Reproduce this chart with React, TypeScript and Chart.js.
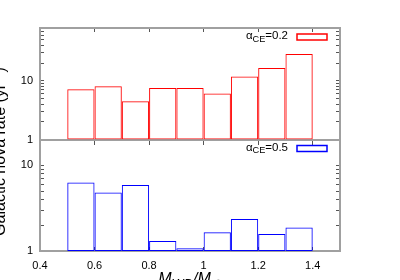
import React, { useEffect, useRef } from 'react';
import { Chart, registerables } from 'chart.js';

Chart.register(...registerables);

// ---- data ----
const binCenters = [0.55, 0.65, 0.75, 0.85, 0.95, 1.05, 1.15, 1.25, 1.35];
const rateCE02 = [7.2, 8.1, 4.5, 7.6, 7.6, 6.1, 11.9, 16.6, 28.9];
const rateCE05 = [6.3, 4.8, 5.9, 1.31, 1.08, 1.66, 2.36, 1.58, 1.88];
const xTickValues = [0.4, 0.6, 0.8, 1.0, 1.2, 1.4];
const topYTicks = [1, 2, 3, 4, 5, 6, 7, 8, 9, 10, 20, 30, 40, 50, 60, 70, 80];
const bottomYTicks = [1, 2, 3, 4, 5, 6, 7, 8, 9, 10, 20];
const labeledYTicks = [1, 10];
const legendValues = ['0.2', '0.5'];

const FONT = '"Liberation Sans", Arial, Helvetica, sans-serif';
const GRAY = '#a0a0a0';
const TICK = '#555555';
const RED = '#ff0000';
const BLUE = '#0000ff';

type Seg = { t: string; sub?: boolean; sup?: boolean };

function drawRich(ctx: CanvasRenderingContext2D, segs: Seg[], x: number, y: number, size: number, align: 'left' | 'center' | 'right', italic = false) {
  const fontFor = (s: Seg) => `${italic ? 'italic ' : ''}${s.sub || s.sup ? size * 0.8 : size}px ${FONT}`;
  let total = 0;
  const widths = segs.map((s) => {
    ctx.font = fontFor(s);
    const w = ctx.measureText(s.t).width;
    total += w;
    return w;
  });
  let cx = align === 'left' ? x : align === 'center' ? x - total / 2 : x - total;
  ctx.textAlign = 'left';
  ctx.textBaseline = 'alphabetic';
  ctx.fillStyle = '#000';
  segs.forEach((s, i) => {
    ctx.font = fontFor(s);
    const dy = s.sub ? size * 0.25 : s.sup ? -size * 0.4 : 0;
    ctx.fillText(s.t, cx, y + dy);
    cx += widths[i];
  });
}

const textPlugin = {
  id: 'richText',
  afterDraw(chart: any) {
    const ctx = chart.ctx as CanvasRenderingContext2D;
    const area = chart.chartArea;
    ctx.save();
    // y title
    ctx.save();
    ctx.translate(area.left - 35, (area.top + area.bottom) / 2 + 12);
    ctx.rotate(-Math.PI / 2);
    drawRich(ctx, [{ t: 'Galactic nova rate (yr' }, { t: '-1', sup: true }, { t: ')' }], 0, 0, 16, 'center');
    ctx.restore();
    // x title
    drawRich(
      ctx,
      [{ t: 'M' }, { t: 'WD', sub: true }, { t: '/M' }, { t: '⊙', sub: true }],
      (area.left + area.right) / 2,
      chart.scales.x.bottom + 3.5,
      16,
      'center',
      true
    );
    // legends
    ['y1', 'y2'].forEach((id, i) => {
      const sc = chart.scales[id];
      const ds = chart.data.datasets[i];
      drawRich(ctx, [{ t: 'α' }, { t: 'CE', sub: true }, { t: '=' + legendValues[i] }], area.right - 52, sc.top + 11, 11.5, 'right');
      ctx.strokeStyle = ds.borderColor;
      ctx.lineWidth = 1.5;
      ctx.strokeRect(area.right - 43, sc.top + 6, 30, 6);
    });
    ctx.restore();
  },
};

function xAxis(position: any, tickLength: number, showLabels: boolean, height: number | null) {
  return {
    type: 'linear',
    axis: 'x',
    position,
    offset: false,
    min: 0.4,
    max: 1.5,
    afterBuildTicks: (s: any) => {
      s.ticks = xTickValues.map((v) => ({ value: v }));
    },
    afterFit: (s: any) => {
      if (height !== null) s.height = height;
    },
    ticks: {
      display: showLabels,
      font: { family: FONT, size: 11 },
      color: '#000',
      padding: 12,
      maxRotation: 0,
      autoSkip: false,
      callback: (v: number) => String(Math.round(v * 10) / 10),
    },
    grid: { offset: false, drawOnChartArea: false, drawTicks: true, tickLength, tickColor: TICK, tickWidth: 1 },
    border: { display: true, color: GRAY, width: 2 },
  };
}

function yAxis(position: string, stack: string, weight: number, max: number, tickList: number[], showLabels: boolean) {
  return {
    type: 'logarithmic',
    axis: 'y',
    position,
    stack,
    stackWeight: 1,
    weight,
    min: 1,
    max,
    afterBuildTicks: (s: any) => {
      s.ticks = tickList.map((v) => ({ value: v, major: labeledYTicks.includes(v) }));
    },
    afterFit: (s: any) => {
      s.width = showLabels ? 40 : 0;
    },
    ticks: {
      display: showLabels,
      font: { family: FONT, size: 11 },
      color: '#000',
      padding: 11,
      autoSkip: false,
      callback: (v: number) => (labeledYTicks.includes(v) ? String(v) : ''),
    },
    grid: { drawOnChartArea: false, drawTicks: true, tickLength: -4, tickColor: TICK, tickWidth: 1 },
    border: { display: true, color: GRAY, width: 2 },
  };
}

export default function App() {
  const ref = useRef<HTMLCanvasElement>(null);
  useEffect(() => {
    if (!ref.current) return;
    const mk = (vals: number[]) => binCenters.map((c, i) => ({ x: c, y: vals[i] }));
    const common = {
      backgroundColor: 'rgba(0,0,0,0)',
      borderWidth: 1,
      borderSkipped: false,
      grouped: false,
      barPercentage: 1,
      categoryPercentage: 1,
      inflateAmount: 0,
      xAxisID: 'x',
    };
    const chart = new Chart(ref.current, {
      type: 'bar',
      data: {
        datasets: [
          { ...common, label: 'αCE=0.2', data: mk(rateCE02), yAxisID: 'y1', borderColor: RED } as any,
          { ...common, label: 'αCE=0.5', data: mk(rateCE05), yAxisID: 'y2', borderColor: BLUE } as any,
        ],
      },
      options: {
        animation: false,
        responsive: false,
        devicePixelRatio: 1,
        layout: { padding: { top: 28, left: 0, right: 60, bottom: 0 } },
        plugins: { legend: { display: false }, tooltip: { enabled: false } },
        scales: {
          x: xAxis('bottom', -4, true, 29),
          xt: xAxis('top', -4, false, 0),
          xm: xAxis({ y2: 20 }, 4, false, null),
          y1: yAxis('left', 'L', 2, 80, topYTicks, true),
          y2: yAxis('left', 'L', 1, 20, bottomYTicks, true),
          y1r: yAxis('right', 'R', 1, 80, topYTicks, false),
          y2r: yAxis('right', 'R', 2, 20, bottomYTicks, false),
        } as any,
      },
      plugins: [textPlugin],
    });
    return () => chart.destroy();
  }, []);
  return (
    <div style={{ position: 'fixed', left: 0, top: 0, width: 400, height: 280, background: '#fff' }}>
      <canvas ref={ref} width={400} height={280} style={{ display: 'block' }} />
    </div>
  );
}
